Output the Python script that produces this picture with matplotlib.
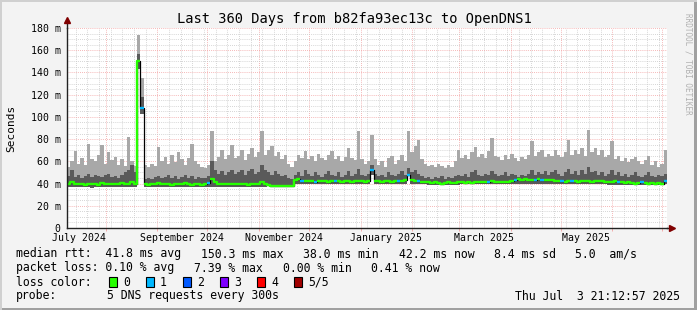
import numpy as np
import pandas as pd
import matplotlib
matplotlib.use("Agg")
import matplotlib.pyplot as plt
import matplotlib.dates as mdates
from matplotlib.patches import Rectangle
from matplotlib.ticker import MultipleLocator

# ---------------- data ----------------
title = "Last 360 Days from b82fa93ec13c to OpenDNS1"
start = "2024-07-08 21:12:57"
end = "2025-07-03 21:12:57"
bin_days = 2

smoke_hi = [
    55, 60, 69, 58, 63, 57, 76, 62, 60, 66,
    75, 58, 68, 61, 64, 57, 62, 56, 82, 60,
    56, 174, 135, 57, 55, 58, 56, 73, 60, 64,
    58, 66, 59, 68, 62, 57, 63, 76, 60, 58,
    55, 54, 57, 87, 60, 64, 70, 62, 66, 75,
    63, 65, 70, 61, 67, 72, 64, 68, 87, 66,
    70, 74, 65, 68, 62, 66, 58, 55, 60, 66,
    63, 69, 62, 65, 60, 67, 63, 61, 66, 69,
    62, 65, 60, 64, 72, 63, 61, 87, 62, 58,
    60, 84, 62, 57, 60, 55, 63, 65, 58, 61,
    66, 60, 87, 68, 74, 79, 62, 58, 56, 57,
    55, 58, 56, 54, 57, 55, 60, 70, 63, 66,
    62, 68, 73, 64, 67, 63, 69, 81, 65, 64,
    61, 66, 62, 67, 63, 60, 64, 62, 66, 78,
    65, 68, 70, 64, 67, 65, 70, 66, 64, 68,
    79, 66, 70, 67, 72, 65, 88, 68, 72, 66,
    70, 64, 66, 78, 62, 65, 60, 63, 59, 62,
    64, 60, 58, 61, 65, 57, 60, 55, 58, 70,
]
smoke_mid = [
    47, 52, 46, 48, 45, 47, 49, 46, 48, 47,
    46, 48, 49, 46, 47, 45, 48, 50, 52, 57,
    50, 157, 118, 44, 45, 44, 46, 47, 45, 46,
    48, 45, 47, 44, 46, 48, 45, 47, 44, 46,
    45, 45, 47, 60, 52, 49, 51, 48, 50, 52,
    49, 50, 52, 48, 51, 53, 49, 50, 57, 52,
    50, 48, 51, 49, 47, 48, 45, 44, 48, 50,
    47, 52, 49, 47, 50, 48, 46, 49, 51, 48,
    47, 50, 46, 48, 51, 47, 49, 53, 48, 47,
    49, 57, 49, 47, 48, 46, 50, 48, 47, 49,
    51, 48, 54, 50, 52, 49, 47, 45, 46, 44,
    46, 45, 47, 44, 46, 45, 47, 48, 47, 49,
    46, 50, 52, 48, 47, 49, 48, 51, 49, 47,
    48, 50, 47, 49, 48, 46, 48, 47, 49, 52,
    48, 50, 49, 51, 48, 50, 52, 49, 47, 50,
    53, 49, 51, 48, 52, 49, 55, 50, 51, 48,
    50, 47, 49, 52, 48, 50, 47, 49, 46, 48,
    50, 47, 46, 48, 50, 47, 46, 48, 47, 49,
]
median_ms = [
    39.5, 41.5, 40, 39.5, 40, 39, 39.5, 40, 39.5, 39,
    40.5, 39.5, 40, 39.5, 40, 39.5, 40.5, 39.5, 40, 41.5,
    40, 150, 108, 39.5, 39, 39.5, 40, 40.5, 39.5, 40,
    39.5, 39, 40, 39.5, 40, 40.5, 39.5, 39, 40, 39.5,
    39, 39.5, 40.5, 44.5, 41, 40, 39.5, 40, 39.5, 40,
    39.5, 39.5, 40, 39.5, 39, 40, 39.5, 40, 41, 39.5,
    38.5, 38, 38, 38, 38, 38, 38, 38, 43.5, 44,
    42.5, 42, 42.5, 42, 41.5, 42, 42.5, 42, 41.5, 42,
    42, 42.5, 41.5, 42, 42, 41.5, 42, 42.5, 42, 41.5,
    42, 52, 42, 42, 41.5, 42, 42, 41.5, 42, 42.5,
    42, 43, 48, 43, 42.5, 42, 41.5, 41, 41, 40.5,
    41, 40.5, 40, 40.5, 41, 40.5, 40.5, 41, 41.5, 40.5,
    41, 40.5, 41, 41.5, 41, 41, 41.5, 42, 41.5, 41,
    41.5, 41, 41.5, 42, 43.5, 44, 43.5, 44, 43.5, 43,
    43.5, 44, 43.5, 43, 43.5, 43, 42.5, 42, 42, 41.5,
    42, 42.5, 42, 41.5, 42, 42.5, 42, 41.5, 42, 42.5,
    42, 41.5, 41, 41.5, 42, 41.5, 41, 40.5, 41, 40.5,
    40, 40.5, 41, 40.5, 40, 40.5, 40, 40.5, 40, 42,
]
smoke_lo = [
    37, 37, 36.5, 37, 37, 36.5, 37, 36, 37, 37,
    36.5, 37, 37, 36.5, 37, 37, 36.5, 37, 37, 37,
    37, 143, 103, 37, 36.5, 37, 37, 37, 36.5, 37,
    37, 36.5, 37, 37, 37, 36.5, 37, 37, 36.5, 37,
    37, 37, 37, 37, 36.5, 37, 37, 37, 36.5, 37,
    37, 37, 36.5, 37, 37, 37, 36.5, 37, 37, 37,
    37.5, 37.5, 37.5, 37.5, 37.5, 37.5, 37.5, 37.5, 39.5, 39.5,
    39.5, 39.5, 39.5, 39.5, 39.5, 39.5, 39.5, 39.5, 39.5, 39.5,
    39.5, 39.5, 39.5, 39.5, 39.5, 39.5, 39.5, 39.5, 39.5, 39.5,
    39.5, 48, 39.5, 39.5, 39.5, 39.5, 39.5, 39.5, 39.5, 39.5,
    39.5, 39.5, 47, 39.5, 39.5, 39.5, 39.5, 39.5, 39, 38.5,
    38.5, 38.5, 38.5, 38.5, 38.5, 38.5, 38.5, 39, 39.5, 39.5,
    39.5, 39.5, 39.5, 39.5, 39.5, 39.5, 39.5, 39.5, 39.5, 39.5,
    39.5, 39.5, 39.5, 39.5, 39.5, 39.5, 39.5, 39.5, 39.5, 39.5,
    39.5, 39.5, 39.5, 39.5, 39.5, 39.5, 39.5, 39.5, 39.5, 39.5,
    39.5, 39.5, 39.5, 39.5, 39.5, 39.5, 39.5, 39.5, 39.5, 39.5,
    39.5, 39.5, 39, 39, 38.5, 38.5, 38.5, 38.5, 38.5, 38.5,
    38.5, 38.5, 38.5, 38.5, 38.5, 38.5, 38.5, 38.5, 38.5, 39.5,
]
loss1_bins = [22, 42, 70, 74, 80, 91, 99, 102, 105, 126, 134, 140, 142, 148, 151, 165, 172, 179]

loss_labels = ["0", "1", "2", "3", "4", "5/5"]
loss_colors = ["#26ff00", "#00b8ff", "#0059ff", "#7e00ff", "#ff0000", "#a10000"]

y_ticks = [0, 20, 40, 60, 80, 100, 120, 140, 160, 180]
y_ticklabels = ["0", "20 m", "40 m", "60 m", "80 m", "100 m", "120 m", "140 m", "160 m", "180 m"]
x_label_dates = ["2024-07-16", "2024-09-16", "2024-11-16", "2025-01-16", "2025-03-16", "2025-05-16"]
x_labels = ["July 2024", "September 2024", "November 2024", "January 2025", "March 2025", "May 2025"]

row1 = ["median rtt:  41.8 ms avg", "150.3 ms max", "38.0 ms min", "42.2 ms now", "8.4 ms sd", "5.0  am/s"]
row2 = ["packet loss: 0.10 % avg", "7.39 % max", "0.00 % min", "0.41 % now"]
probe_text = "5 DNS requests every 300s"
stamp = "Thu Jul  3 21:12:57 2025"

# ---------------- figure ----------------
W, H = 697, 310
DPI = 100
MONO = "DejaVu Sans Mono"
plt.rcParams["font.family"] = MONO

fig = plt.figure(figsize=(W / DPI, H / DPI), dpi=DPI)
fig.patch.set_facecolor("#f3f3f3")


def fx(px):
    return px / W


def fy(py):
    return 1 - py / H


L, R, T, B = 67, 667, 28, 228
ax = fig.add_axes([fx(L), fy(B), (R - L) / W, (B - T) / H])
ax.set_facecolor("white")

n = len(median_ms)
edges = mdates.date2num(pd.date_range(start, periods=n + 1, freq=f"{bin_days}D").to_pydatetime())


def ext(a):
    a = np.asarray(a, dtype=float)
    return np.append(a, a[-1])


lo = np.array(smoke_lo, float)
hi = np.array(smoke_hi, float)
mid = np.array(smoke_mid, float)
med = np.array(median_ms, float)
loss = np.zeros(n, int)
loss[loss1_bins] = 1

ax.fill_between(edges, ext(lo), ext(hi), step="post", color="#a8a8a8", lw=0, zorder=2)
ax.fill_between(edges, ext(lo), ext(mid), step="post", color="#5a5a5a", lw=0, zorder=3)
ax.step(edges, ext(med), where="post", color="#000000", lw=0.9, zorder=4)
for lvl in range(len(loss_colors)):
    y = np.where(loss == lvl, med, np.nan)
    if np.all(np.isnan(y)):
        continue
    ax.step(edges, ext(y), where="post", color=loss_colors[lvl], lw=1.7,
            solid_capstyle="butt", zorder=5)

x0 = mdates.date2num(pd.Timestamp(start).to_pydatetime())
x1 = mdates.date2num(pd.Timestamp(end).to_pydatetime())
ax.set_xlim(x0, x1)
ax.set_ylim(0, 180)

# grid
ax.set_axisbelow(True)
ax.xaxis.set_major_locator(mdates.MonthLocator())
ax.xaxis.set_minor_locator(mdates.WeekdayLocator(byweekday=mdates.SU))
ax.set_yticks(y_ticks)
ax.yaxis.set_minor_locator(MultipleLocator(5))
ax.grid(which="minor", color="#c8c8c8", lw=0.6, ls=(0, (1, 1.5)))
ax.grid(which="major", color="#f2a0a0", lw=0.6, ls=(0, (1, 1.5)))
ax.set_xticklabels([])
ax.set_yticklabels(y_ticklabels, fontsize=7.1, family=MONO)
ax.tick_params(axis="y", which="both", length=0, pad=4.5)
ax.tick_params(axis="x", which="minor", length=0)
ax.tick_params(axis="x", which="major", length=2.5, color="#f2a0a0", width=0.6)

for s in ["top", "right"]:
    ax.spines[s].set_visible(False)
for s in ["left", "bottom"]:
    ax.spines[s].set_color("#222222")
    ax.spines[s].set_linewidth(1.0)
    ax.spines[s].set_zorder(6)

# axis extensions with arrows
ax.plot([0, 0], [1, 1.035], transform=ax.transAxes, color="#222222", lw=1.0, clip_on=False, zorder=6)
ax.plot([1, 1.006], [0, 0], transform=ax.transAxes, color="#222222", lw=1.0, clip_on=False, zorder=6)
ax.plot([0], [1.04], transform=ax.transAxes, marker="^", ms=4.5, color="#800000", clip_on=False, zorder=7)
ax.plot([1.009], [0], transform=ax.transAxes, marker=">", ms=4.5, color="#800000", clip_on=False, zorder=7)

# x labels
for d, lab in zip(x_label_dates, x_labels):
    xd = mdates.date2num(pd.Timestamp(d).to_pydatetime())
    ax.text(xd, -0.05, lab, transform=ax.get_xaxis_transform(), ha="center", va="center",
            fontsize=7.1, family=MONO, clip_on=False)

# title, y label, watermark
fig.text(fx(354), fy(19), title, ha="center", va="center", fontsize=9.9, family=MONO)
fig.text(fx(11), fy(128), "Seconds", ha="center", va="center", rotation=90, fontsize=8, family=MONO)
fig.text(fx(688), fy(64), "RRDTOOL / TOBI OETIKER", ha="center", va="center", rotation=-90,
         fontsize=5.5, family=MONO, color="#b0b0b0")

# legend
LEG_FS = 8.29
cw = 6.93
gap = 19
rows_y = [254, 268, 282, 296]


def put_row(items, y):
    x = 16
    for it in items:
        fig.text(fx(x), fy(y), it, ha="left", va="center", fontsize=LEG_FS, family=MONO)
        x += len(it) * cw + gap


put_row(row1, rows_y[0])
put_row(row2, rows_y[1])

fig.text(fx(16), fy(rows_y[2]), "loss color:", ha="left", va="center", fontsize=LEG_FS, family=MONO)
sx = 109
for lab, col in zip(loss_labels, loss_colors):
    fig.patches.append(Rectangle((fx(sx), fy(rows_y[2] + 5)), 8 / W, 10 / H, transform=fig.transFigure,
                                 facecolor=col, edgecolor="black", lw=0.8))
    fig.text(fx(sx + 14), fy(rows_y[2]), lab, ha="left", va="center", fontsize=LEG_FS, family=MONO)
    sx += 37

fig.text(fx(16), fy(rows_y[3]), "probe:", ha="left", va="center", fontsize=LEG_FS, family=MONO)
fig.text(fx(107), fy(rows_y[3]), probe_text, ha="left", va="center", fontsize=LEG_FS, family=MONO)
fig.text(fx(680), fy(rows_y[3]), stamp, ha="right", va="center", fontsize=LEG_FS, family=MONO)

# frame
fig.patches.append(Rectangle((0, 0), 1, 2 / H, transform=fig.transFigure, color="#a0a0a0", lw=0))
fig.patches.append(Rectangle((1 - 3 / W, 0), 3 / W, 1, transform=fig.transFigure, color="#a0a0a0", lw=0))
fig.patches.append(Rectangle((0, 1 - 2 / H), 1, 2 / H, transform=fig.transFigure, color="#d0d0d0", lw=0))
fig.patches.append(Rectangle((0, 0), 2 / W, 1, transform=fig.transFigure, color="#d0d0d0", lw=0))

fig.savefig("out.png", dpi=DPI, facecolor=fig.get_facecolor())
